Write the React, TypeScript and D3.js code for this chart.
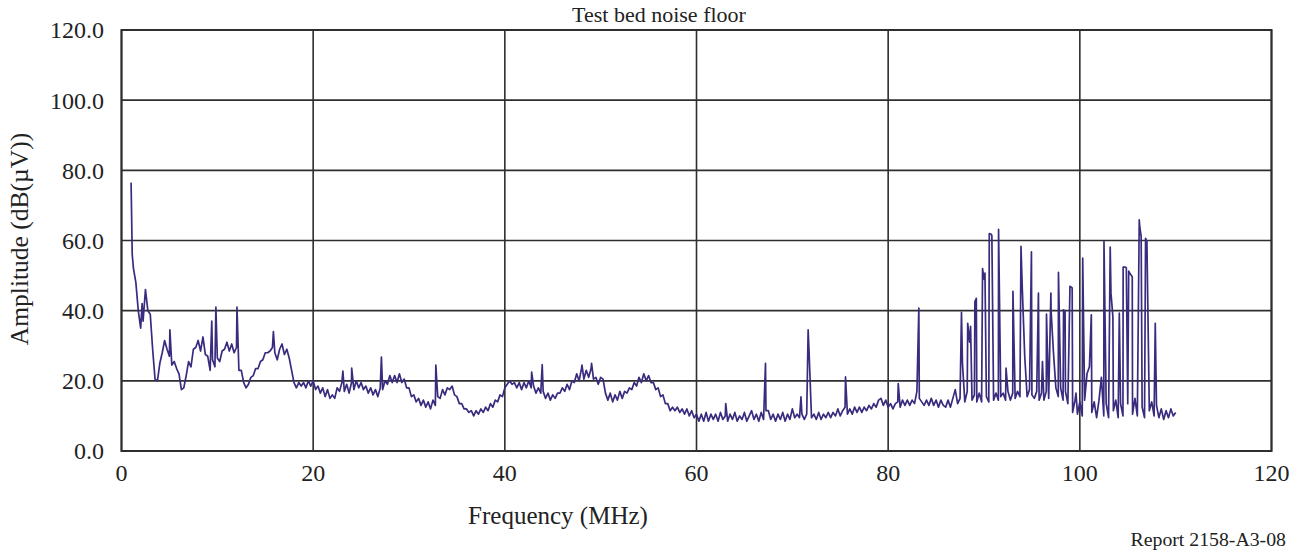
import React from 'react';
import * as d3 from 'd3';

// analyzer sweep: first bin and bin spacing (MHz)
const sweepStartMHz = 1.0;
const sweepStepMHz = 0.25;

// trace amplitude per bin, dB(uV), 20 bins (5 MHz) per row
const traceDb = [
  76.5, 52, 48, 40, 35, 37, 46, 40, 39, 29, 20.5, 20, 25, 28, 31.5, 29, 27, 24.5, 25.5, 23.5,
  22, 17.5, 18, 21.5, 25.5, 24, 29, 29.5, 31.5, 28.5, 32.5, 27.5, 27, 23, 26, 24, 26.5, 25.5, 28.5, 29,
  31, 28.5, 30.5, 28, 29.5, 23, 23, 19.5, 18, 19, 21, 21.5, 23.5, 23.5, 25.5, 26, 28, 28, 28.5, 29.5,
  28, 26, 29, 30.5, 27.5, 29, 26.5, 23, 19.5, 18, 19.5, 18.5, 19.5, 18, 20, 18.5, 20, 17.5, 18.5, 16.5,
  18, 15.5, 17.5, 15, 16, 15, 18, 17, 19.5, 17, 19, 16.5, 19.5, 17.5, 20, 18, 19.5, 17.5, 18.5, 16.5,
  18, 16, 17.5, 15.5, 18, 17.5, 20, 19, 21.5, 19.5, 21.5, 19.5, 22, 19.5, 20.5, 18, 18, 15.5, 16, 14,
  15, 13, 14.5, 12.5, 14, 12, 14.5, 13, 15.5, 15, 17.5, 16, 18, 17.5, 18.5, 16, 15.5, 13.5, 13.5, 12,
  12, 11, 11.5, 10, 11.5, 10.5, 12, 11, 12.5, 11.5, 13.5, 12.5, 14.5, 14, 16, 15.5, 18, 19, 20, 19,
  19.5, 18, 19.5, 17.5, 19.5, 18, 20, 18, 18.5, 16.5, 18, 16.5, 17, 15, 16.5, 14.5, 16, 15, 16.5, 16.5,
  18, 17, 19, 17.5, 20, 19.5, 22, 20, 23.5, 20.5, 23, 21, 23.5, 20.5, 21, 19, 21, 20.5, 16.5, 14.5,
  16.5, 14, 16, 14.5, 17, 15, 17, 16.5, 18, 17.5, 19.5, 18.5, 21, 19.5, 22, 20, 21.5, 19.5, 19.5, 17.5,
  18, 15.5, 16, 13.5, 13.5, 11.5, 12.5, 11.5, 12.5, 11, 12, 10.5, 12, 10, 11.5, 9.5, 10.5, 8.5, 10.5, 8.5,
  11, 8.5, 10.5, 9, 10.5, 8.5, 11, 9, 10, 8.5, 10.5, 9, 11, 8.5, 10, 9, 11, 8.5, 10, 11.5,
  9, 10.5, 8.5, 11, 9, 11.5, 11.5, 9, 10.5, 8.5, 10.5, 9, 11, 8.5, 10.5, 9, 12, 9.5, 10.5, 9.5,
  10.5, 9, 10.5, 28, 9.5, 10.5, 9, 11, 9, 10.5, 9.5, 11, 9.5, 11, 10, 12, 10, 11.5, 12.5, 10.5,
  12, 10.5, 12.5, 11, 12.5, 11, 12.5, 11.5, 13, 12, 13.5, 12.5, 14.5, 15, 13, 14.5, 12.5, 13.5, 12, 13.5,
  14, 12.5, 14.5, 13, 14.5, 13, 14.5, 13.5, 17, 15, 14, 13, 14.5, 13, 15, 13, 14.5, 12.5, 14.5, 13,
  12.5, 14.5, 12.5, 15, 17.5, 13.5, 15, 25, 14, 17, 31, 14.5, 16, 14, 16.5, 14, 49, 15.5, 14, 61.8,
  14.5, 16.5, 14.5, 15.5, 16.5, 14.5, 17, 14.5, 16.5, 15, 17, 15.5, 46, 27, 15.5, 17.5, 16, 15, 17, 14.5,
  16.5, 14.5, 17, 15, 40, 28, 18, 15.5, 18, 14.5, 17, 13.5, 46.9, 11, 14.5, 10.5, 14, 10, 14.5, 22,
  24, 11, 14, 9.5, 14.5, 21, 10, 13.5, 9.5, 45, 11.5, 14.5, 9.5, 13.5, 10, 52.4, 13.5, 50.5, 10.5, 15,
  10, 64, 12.5, 9.5, 59.7, 11.5, 14, 10, 13, 9.5, 12, 9, 11.5, 9.5, 12, 10, 11,
];

// narrow carriers / peaks that fall between sweep bins
const spikeMHz = [
  1.12, 2.15, 5.05, 9.42, 9.85, 12.05, 15.85, 23.1, 24.02, 27.12, 32.8, 42.8, 43.9, 48.05, 49.05,
  63.05, 67.2, 70.9, 71.65, 75.55, 81.05, 83.2, 87.65, 88.3, 88.6, 89.05, 89.2, 89.85, 90.1, 90.55,
  90.82, 91.52, 92.3, 93.02, 93.86, 94.95, 95.68, 96.1, 96.52, 96.98, 97.77, 98.3, 98.46, 98.97, 99.2,
  99.6, 100.3, 101.2, 102.52, 103.17, 103.45, 104.12, 104.52, 104.85, 105.1, 105.47, 106.2, 106.4,
  106.86, 107.87,
];
const spikeDb = [
  56, 42, 34.5, 37, 41, 41, 34, 22.8, 23.6, 26.8, 24.5, 22.5, 24.6, 24.5, 25,
  13.5, 25, 15.4, 34.5, 21.1, 19.2, 40.7, 39.5, 36.4, 35.5, 42.6, 43.5, 52, 50.7, 62,
  61.4, 63.2, 23.6, 45.5, 58.3, 56.8, 45, 25.5, 39, 45, 50.9, 40.2, 39.8, 46.9, 46.5,
  16.5, 55, 38.8, 59.7, 58.1, 38.3, 39.3, 52.4, 52.2, 51.3, 49.7, 65.9, 61.1,
  60.6, 36.4,
];

const xTicks = [0, 20, 40, 60, 80, 100, 120];
const yTicks = [0, 20, 40, 60, 80, 100, 120];

const W = 1307;
const H = 555;
const serif = '"Liberation Serif", "DejaVu Serif", serif';

export default function App() {
  const x = d3.scaleLinear().domain([0, 120]).range([121.5, 1271.5]);
  const y = d3.scaleLinear().domain([0, 120]).range([451, 30]);

  const pts: [number, number][] = traceDb.map((v, i) => [sweepStartMHz + i * sweepStepMHz, v]);
  spikeMHz.forEach((f, i) => pts.push([f, spikeDb[i]]));
  pts.sort((a, b) => a[0] - b[0]);

  const line = d3.line<[number, number]>()
    .x(d => x(d[0]))
    .y(d => y(d[1]));

  const grid = '#2e2e2e';

  return (
    <svg width={W} height={H} style={{ position: 'absolute', left: 0, top: 0, background: '#fff' }}>
      <text x={659} y={22} fontFamily={serif} fontSize={22} textAnchor="middle" fill="#222">
        Test bed noise floor
      </text>

      {yTicks.map(t => (
        <line key={'gy' + t} x1={x(0)} x2={x(120)} y1={y(t)} y2={y(t)} stroke={grid} strokeWidth={1.6} />
      ))}
      {xTicks.map(t => (
        <line key={'gx' + t} x1={x(t)} x2={x(t)} y1={y(0)} y2={y(120)} stroke={grid} strokeWidth={1.6} />
      ))}
      <rect x={x(0)} y={y(120)} width={x(120) - x(0)} height={y(0) - y(120)}
        fill="none" stroke={grid} strokeWidth={2} />

      <path d={line(pts) || ''} fill="none" stroke="#3a2b7e" strokeWidth={1.7} strokeLinejoin="round" />

      {yTicks.map(t => (
        <text key={'ly' + t} x={104} y={y(t)} dy="0.35em" textAnchor="end"
          fontFamily={serif} fontSize={24} fill="#222">
          {t.toFixed(1)}
        </text>
      ))}
      {xTicks.map(t => (
        <text key={'lx' + t} x={x(t)} y={481} textAnchor="middle"
          fontFamily={serif} fontSize={24} fill="#222">
          {t}
        </text>
      ))}

      <text x={558} y={524} textAnchor="middle" fontFamily={serif} fontSize={25} fill="#222">
        Frequency (MHz)
      </text>
      <text transform="translate(28,239) rotate(-90)" textAnchor="middle"
        fontFamily={serif} fontSize={25.5} fill="#222">
        Amplitude (dB(µV))
      </text>
      <text x={1286} y={546} textAnchor="end" fontFamily={serif} fontSize={19.8} fill="#222">
        Report 2158-A3-08
      </text>
    </svg>
  );
}
